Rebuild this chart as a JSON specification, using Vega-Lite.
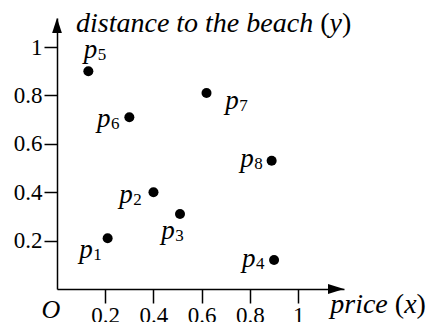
{
  "$schema": "https://vega.github.io/schema/vega-lite/v6.json",
  "width": 287,
  "height": 271,
  "autosize": {"type": "none"},
  "padding": {"left": 57, "top": 18, "right": 86, "bottom": 33},
  "config": {"view": {"stroke": null}, "font": "Liberation Serif"},
  "datasets": {
    "points": [
      {"point": "p1", "x": 0.21, "y": 0.21},
      {"point": "p2", "x": 0.4, "y": 0.4},
      {"point": "p3", "x": 0.51, "y": 0.31},
      {"point": "p4", "x": 0.9, "y": 0.12},
      {"point": "p5", "x": 0.13, "y": 0.9},
      {"point": "p6", "x": 0.3, "y": 0.71},
      {"point": "p7", "x": 0.62, "y": 0.81},
      {"point": "p8", "x": 0.89, "y": 0.53}
    ],
    "pointLabels": [
      {"sub": "1", "x": 0.092, "y": 0.129},
      {"sub": "2", "x": 0.258, "y": 0.357},
      {"sub": "3", "x": 0.432, "y": 0.205},
      {"sub": "4", "x": 0.767, "y": 0.091},
      {"sub": "5", "x": 0.111, "y": 0.953},
      {"sub": "6", "x": 0.166, "y": 0.668},
      {"sub": "7", "x": 0.698, "y": 0.743},
      {"sub": "8", "x": 0.76, "y": 0.505}
    ],
    "yArrow": [{"x": 0, "y": 1.12}],
    "xArrow": [{"x": 1.19, "y": 0}],
    "origin": [{"text": "O", "x": -0.064, "y": -0.12}],
    "italicTitles": [
      {"text": "distance to the beach", "x": 0.0788, "y": 1.063},
      {"text": "y", "x": 1.1299, "y": 1.063},
      {"text": "price", "x": 1.133, "y": -0.099},
      {"text": "x", "x": 1.4396, "y": -0.099}
    ],
    "uprightTitles": [
      {"text": "(", "x": 1.0913, "y": 1.063},
      {"text": ")", "x": 1.1815, "y": 1.063},
      {"text": "(", "x": 1.4006, "y": -0.099},
      {"text": ")", "x": 1.491, "y": -0.099}
    ]
  },
  "encoding": {
    "x": {
      "field": "x",
      "type": "quantitative",
      "scale": {"domain": [0, 1.19], "nice": false, "zero": false},
      "axis": {
        "values": [0.2, 0.4, 0.6, 0.8, 1],
        "format": "~g",
        "title": null,
        "grid": false,
        "domainColor": "black",
        "domainWidth": 1.5,
        "tickColor": "black",
        "tickWidth": 1.5,
        "tickSize": 14,
        "labelFont": "Liberation Serif",
        "labelFontSize": 23,
        "labelColor": "black",
        "labelPadding": 1,
        "labelFlush": false,
        "labelOverlap": false
      }
    },
    "y": {
      "field": "y",
      "type": "quantitative",
      "scale": {"domain": [0, 1.12], "nice": false, "zero": false},
      "axis": {
        "values": [0.2, 0.4, 0.6, 0.8, 1],
        "format": "~g",
        "title": null,
        "grid": false,
        "domainColor": "black",
        "domainWidth": 1.5,
        "tickColor": "black",
        "tickWidth": 1.5,
        "tickSize": 13,
        "labelFont": "Liberation Serif",
        "labelFontSize": 23,
        "labelColor": "black",
        "labelPadding": 2,
        "labelFlush": false,
        "labelOverlap": false
      }
    }
  },
  "layer": [
    {
      "data": {"name": "yArrow"},
      "mark": {"type": "point", "shape": "M0,0L-0.65,2L0.65,2Z", "size": 225, "filled": true, "color": "black", "opacity": 1}
    },
    {
      "data": {"name": "xArrow"},
      "mark": {"type": "point", "shape": "M0,0L-2,-0.62L-2,0.62Z", "size": 256, "filled": true, "color": "black", "opacity": 1}
    },
    {
      "data": {"name": "points"},
      "mark": {"type": "circle", "size": 100, "color": "black", "opacity": 1}
    },
    {
      "data": {"name": "pointLabels"},
      "mark": {"type": "text", "text": "p", "font": "Liberation Serif", "fontStyle": "italic", "fontSize": 27, "align": "left", "baseline": "alphabetic", "color": "black"}
    },
    {
      "data": {"name": "pointLabels"},
      "mark": {"type": "text", "font": "Liberation Serif", "fontSize": 17, "align": "left", "baseline": "alphabetic", "dx": 14, "dy": 2, "color": "black"},
      "encoding": {"text": {"field": "sub"}}
    },
    {
      "data": {"name": "origin"},
      "mark": {"type": "text", "font": "Liberation Serif", "fontStyle": "italic", "fontSize": 26, "align": "left", "baseline": "alphabetic", "color": "black"},
      "encoding": {"text": {"field": "text"}}
    },
    {
      "data": {"name": "italicTitles"},
      "mark": {"type": "text", "font": "Liberation Serif", "fontStyle": "italic", "fontSize": 28, "align": "left", "baseline": "alphabetic", "color": "black"},
      "encoding": {"text": {"field": "text"}}
    },
    {
      "data": {"name": "uprightTitles"},
      "mark": {"type": "text", "font": "Liberation Serif", "fontSize": 28, "align": "left", "baseline": "alphabetic", "color": "black"},
      "encoding": {"text": {"field": "text"}}
    }
  ]
}
